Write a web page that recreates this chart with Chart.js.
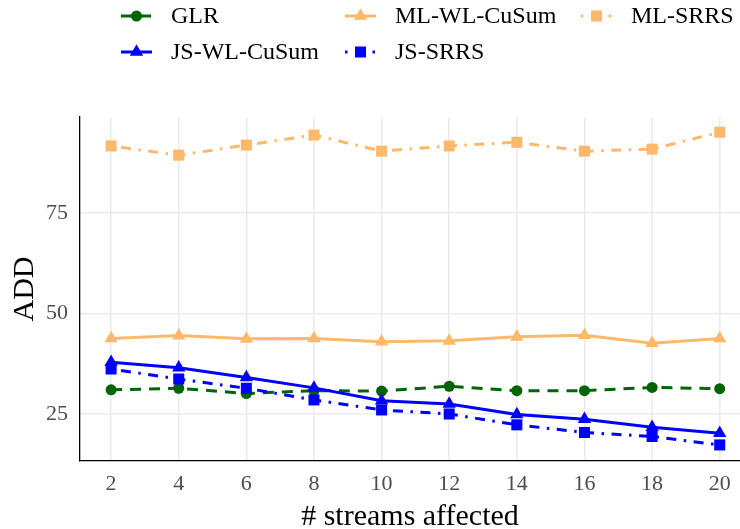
<!DOCTYPE html>
<html>
<head>
<meta charset="utf-8">
<script src="https://cdn.jsdelivr.net/npm/chart.js@4.4.1/dist/chart.umd.min.js"></script>
<style>
  html, body { margin: 0; padding: 0; background: #fff; }
  canvas { display: block; }
</style>
</head>
<body>
<canvas id="addChart" width="740" height="529"></canvas>
<script>
// values
const streams   = [2, 4, 6, 8, 10, 12, 14, 16, 18, 20];
const glr       = [31.0, 31.4, 30.1, 30.8, 30.7, 31.9, 30.8, 30.8, 31.6, 31.3];
const jsWlCusum = [37.9, 36.5, 34.1, 31.5, 28.3, 27.5, 24.9, 23.7, 21.7, 20.2];
const mlWlCusum = [43.8, 44.5, 43.7, 43.8, 43.0, 43.2, 44.2, 44.6, 42.6, 43.8];
const jsSrrs    = [36.2, 33.7, 31.4, 28.5, 26.0, 25.0, 22.3, 20.4, 19.4, 17.3];
const mlSrrs    = [91.7, 89.4, 91.9, 94.4, 90.4, 91.7, 92.6, 90.4, 90.9, 95.1];
const xTicks = [2, 4, 6, 8, 10, 12, 14, 16, 18, 20];
const yTicks = [25, 50, 75];

const SERIF = "'Liberation Serif', 'Times New Roman', serif";
const GREEN = '#006400';
const BLUE = '#0000ff';
const ORANGE = '#fdb96b';
const DOTDASH = [2.5, 7.5, 10, 7.5];

function toPoints(vals){
    return streams.map((s, i) => ({x: s, y: vals[i]}));
}

function series(label, vals, color, style, radius, dash, order){
    return {
        label: label,
        data: toPoints(vals),
        borderColor: color,
        backgroundColor: color,
        borderWidth: 3,
        borderDash: dash,
        pointStyle: style,
        pointRadius: radius,
        pointBackgroundColor: color,
        pointBorderWidth: 0,
        tension: 0,
        order: order,
    };
}

// ggplot-like legend: 3 columns, filled column by column
const legendCols = [121, 345, 581];
const legendRows = [16, 52];

function drawMarker(ctx, style, r, x, y){
    ctx.beginPath();
    if(style === 'circle'){
        ctx.arc(x, y, r, 0, Math.PI * 2);
    } else if(style === 'triangle'){
        let a = 0;
        ctx.moveTo(x + Math.sin(a) * r, y - Math.cos(a) * r);
        a += Math.PI * 2 / 3;
        ctx.lineTo(x + Math.sin(a) * r, y - Math.cos(a) * r);
        a += Math.PI * 2 / 3;
        ctx.lineTo(x + Math.sin(a) * r, y - Math.cos(a) * r);
        ctx.closePath();
    } else {
        const s = r * Math.SQRT1_2;
        ctx.rect(x - s, y - s, 2 * s, 2 * s);
    }
    ctx.fill();
}

const legendPlugin = {
    id: 'colLegend',
    afterDraw(chart){
        const ctx = chart.ctx;
        const sets = chart.data.datasets;
        ctx.save();
        sets.forEach((ds, i) => {
            const col = Math.floor(i / 2);
            const row = i % 2;
            const x0 = legendCols[col];
            const y = legendRows[row];
            ctx.strokeStyle = ds.borderColor;
            ctx.fillStyle = ds.borderColor;
            ctx.lineWidth = ds.borderWidth;
            ctx.setLineDash(ds.borderDash || []);
            ctx.beginPath();
            ctx.moveTo(x0, y);
            ctx.lineTo(x0 + 31, y);
            ctx.stroke();
            ctx.setLineDash([]);
            drawMarker(ctx, ds.pointStyle, ds.pointRadius, x0 + 15.5, y);
            ctx.fillStyle = '#000';
            ctx.font = '24px ' + SERIF;
            ctx.textBaseline = 'middle';
            ctx.textAlign = 'left';
            ctx.fillText(ds.label, x0 + 50, y + 1);
        });
        ctx.restore();
    }
};

const bgPlugin = {
    id: 'whiteBg',
    beforeDraw(chart){
        const ctx = chart.ctx;
        ctx.save();
        ctx.fillStyle = '#fff';
        ctx.fillRect(0, 0, chart.width, chart.height);
        ctx.restore();
    }
};

const ctx = document.getElementById('addChart').getContext('2d');
new Chart(ctx, {
    type: 'line',
    data: {
        datasets: [
            series('GLR', glr, GREEN, 'circle', 5.5, [11, 8], 5),
            series('JS-WL-CuSum', jsWlCusum, BLUE, 'triangle', 7.7, [], 4),
            series('ML-WL-CuSum', mlWlCusum, ORANGE, 'triangle', 7.7, [], 3),
            series('JS-SRRS', jsSrrs, BLUE, 'rect', 7.8, DOTDASH, 2),
            series('ML-SRRS', mlSrrs, ORANGE, 'rect', 7.8, DOTDASH, 1),
        ]
    },
    plugins: [bgPlugin, legendPlugin],
    options: {
        responsive: false,
        animation: false,
        events: [],
        layout: { autoPadding: false, padding: { top: 117, left: 0, right: 0, bottom: 0 } },
        plugins: {
            legend: { display: false },
            tooltip: { enabled: false },
        },
        scales: {
            x: {
                type: 'linear',
                min: 1.08,
                max: 20.6,
                afterBuildTicks: scale => { scale.ticks = xTicks.map(v => ({value: v})); },
                afterFit: scale => {
                    scale.height = 68;
                    scale.paddingLeft = 0;
                    scale.paddingRight = 0;
                },
                grid: { color: '#ebebeb', lineWidth: 1.6, drawTicks: false },
                border: { display: true, color: '#000', width: 1.3 },
                ticks: {
                    color: '#4d4d4d',
                    font: { family: SERIF, size: 22 },
                    padding: 10,
                    maxRotation: 0,
                },
                title: {
                    display: true,
                    text: '# streams affected',
                    color: '#000',
                    font: { family: SERIF, size: 30, lineHeight: 0.8 },
                    padding: 0,
                },
            },
            y: {
                type: 'linear',
                min: 13.3,
                max: 98.9,
                afterBuildTicks: scale => { scale.ticks = yTicks.map(v => ({value: v})); },
                afterFit: scale => {
                    scale.width = 80;
                    scale.paddingTop = 0;
                    scale.paddingBottom = 0;
                },
                grid: { color: '#ebebeb', lineWidth: 1.6, drawTicks: false },
                border: { display: true, color: '#000', width: 1.3 },
                ticks: {
                    color: '#4d4d4d',
                    font: { family: SERIF, size: 22 },
                    padding: 12,
                },
                title: {
                    display: true,
                    text: 'ADD',
                    color: '#000',
                    font: { family: SERIF, size: 30, lineHeight: 1.2 },
                    padding: { top: 7, bottom: 0 },
                },
            },
        },
    },
});
</script>
</body>
</html>
